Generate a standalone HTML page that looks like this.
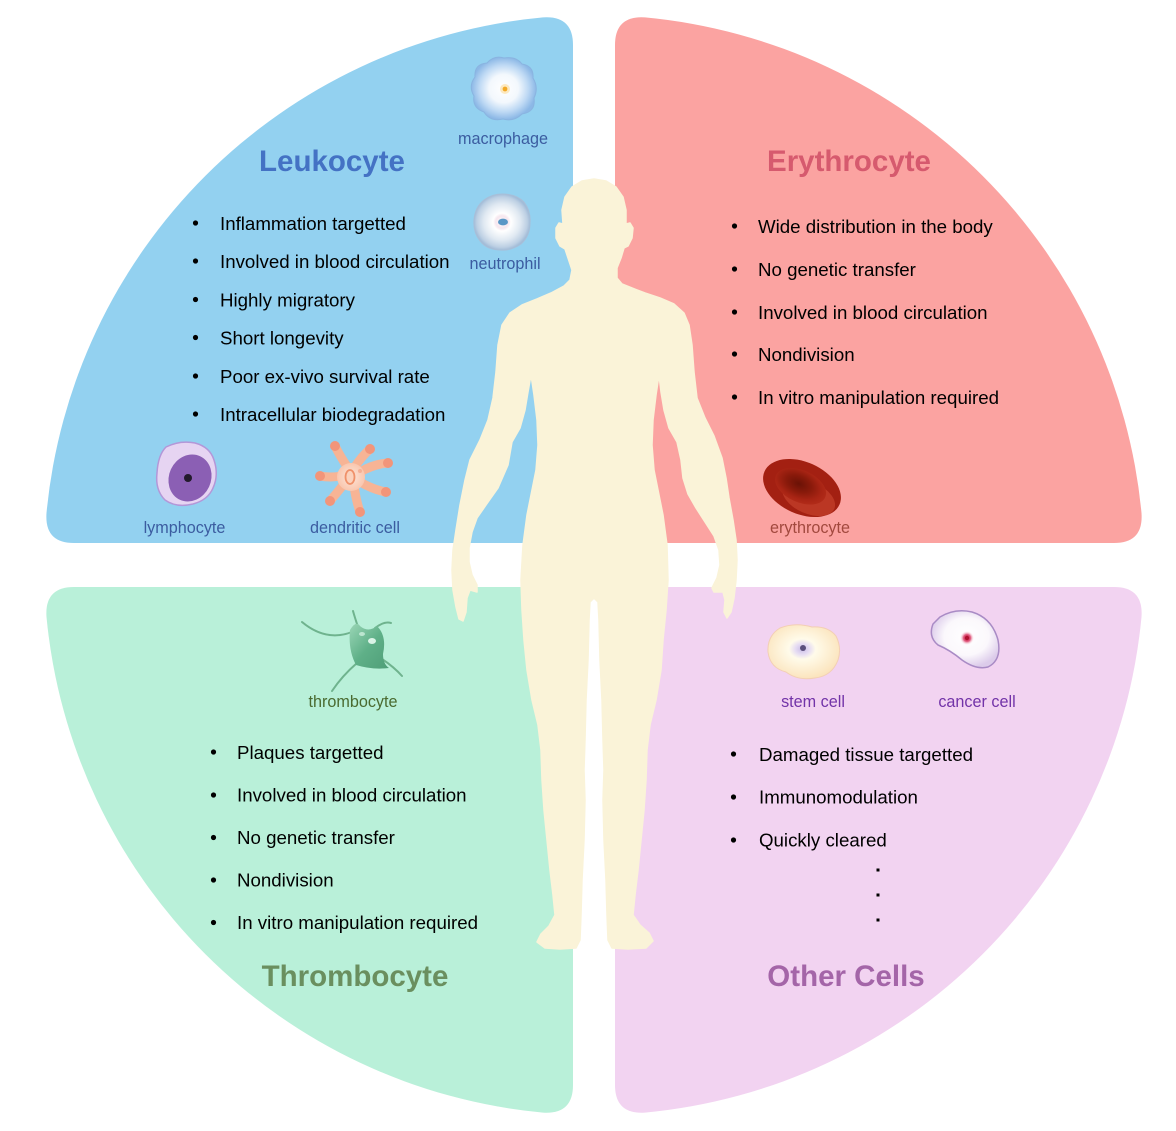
<!DOCTYPE html>
<html>
<head>
<meta charset="utf-8">
<style>
  html,body{margin:0;padding:0;background:#ffffff;}
  svg{display:block;}
  text{font-family:"Liberation Sans",Arial,sans-serif;}
  .b{font-size:18.7px;fill:#000;}
  .t{font-size:29.5px;font-weight:bold;}
  .l{font-size:16.2px;}
</style>
</head>
<body>
<svg width="1176" height="1131" viewBox="0 0 1176 1131" xmlns="http://www.w3.org/2000/svg">
  <defs>
    <radialGradient id="gMac" cx="50%" cy="50%" r="50%">
      <stop offset="0" stop-color="#ffffff"/>
      <stop offset="0.45" stop-color="#f3f8fd"/>
      <stop offset="0.75" stop-color="#bed9f4"/>
      <stop offset="1" stop-color="#8cb8e6"/>
    </radialGradient>
    <radialGradient id="gNeu" cx="50%" cy="50%" r="50%">
      <stop offset="0" stop-color="#ffffff"/>
      <stop offset="0.22" stop-color="#f6e6ee"/>
      <stop offset="0.32" stop-color="#ffffff"/>
      <stop offset="0.65" stop-color="#e0e9f2"/>
      <stop offset="0.9" stop-color="#bccfe3"/>
      <stop offset="1" stop-color="#a2bcd8"/>
    </radialGradient>
    <radialGradient id="gDen" cx="50%" cy="50%" r="50%">
      <stop offset="0" stop-color="#fde6da"/>
      <stop offset="1" stop-color="#f9c6ae"/>
    </radialGradient>
    <radialGradient id="gEry" cx="45%" cy="45%" r="55%">
      <stop offset="0" stop-color="#6a1206"/>
      <stop offset="0.45" stop-color="#8a1a0b"/>
      <stop offset="0.8" stop-color="#a82414"/>
      <stop offset="1" stop-color="#b02a18"/>
    </radialGradient>
    <linearGradient id="gThr" x1="0" y1="0" x2="1" y2="1">
      <stop offset="0" stop-color="#9ad6b6"/>
      <stop offset="0.5" stop-color="#5fb088"/>
      <stop offset="1" stop-color="#4f9e78"/>
    </linearGradient>
    <radialGradient id="gStem" cx="48%" cy="45%" r="55%">
      <stop offset="0" stop-color="#c9bce6"/>
      <stop offset="0.18" stop-color="#e6dcf3"/>
      <stop offset="0.34" stop-color="#fffbea"/>
      <stop offset="1" stop-color="#fbe4bd"/>
    </radialGradient>
    <radialGradient id="gCan" cx="52%" cy="45%" r="55%">
      <stop offset="0" stop-color="#ffffff"/>
      <stop offset="0.6" stop-color="#fbf8fc"/>
      <stop offset="1" stop-color="#dccbea"/>
    </radialGradient>
    <radialGradient id="gNucR" cx="50%" cy="50%" r="50%">
      <stop offset="0" stop-color="#c0143c"/>
      <stop offset="0.5" stop-color="#e0577c"/>
      <stop offset="1" stop-color="#fbe8ee" stop-opacity="0"/>
    </radialGradient>
  </defs>

  <!-- Quadrants -->
  <path d="M573,543 L74,543 Q44.4,543 46.5,513 A550,550 0 0 1 543,17.4 Q573,15.4 573,45 Z" fill="#93d1f0"/>
  <path d="M615,543 L1114,543 Q1143.6,543 1141.5,513 A550,550 0 0 0 645,17.4 Q615,15.4 615,45 Z" fill="#fba3a1"/>
  <path d="M573,587 L74,587 Q44.4,587 46.5,617 A550,550 0 0 0 543,1112.6 Q573,1114.6 573,1085 Z" fill="#b9f0d9"/>
  <path d="M615,587 L1114,587 Q1143.6,587 1141.5,617 A550,550 0 0 1 645,1112.6 Q615,1114.6 615,1085 Z" fill="#f2d3f1"/>

  <!-- Body silhouette -->
  <path fill="#faf3d8" stroke="#faf3d8" stroke-width="1.5" stroke-linejoin="round" d="
  M594,179 L606,181 L616,187 L623,197 L626,210 L626,224 L630,223 L633,228 L632,238 L628,246 L624,248 L621,258 L617,268 L617,278
  L622,284 L632,288 L645,293 L660,298 L674,304 L684,313 L689,325 L692,345 L694,372 L697,398 L705,418 L714,436 L722,458 L726,478
  L729,498 L733,520 L736,540 L737,560 L736,580 L734,598 L731,612 L727,618 L724,612 L725,600 L723,592 L718,592 L714,592 L712,588
  L717,578 L720,565 L719,550 L714,536 L705,522 L696,508 L688,494 L683,478 L681,460 L677,442 L669,428 L664,410 L661,392 L659,375
  L656,395 L653,420 L652,445 L654,470 L658,490 L663,515 L667,545 L668,580 L666,610 L663,640 L661,670 L656,700 L650,725 L647,750
  L646,780 L644,810 L641,840 L638,870 L635,895 L633,915 L640,925 L649,933 L653,941 L646,948 L628,949 L612,948 L608,940 L607,915
  L606,880 L604,840 L603,800 L604,770 L603,740 L602,700 L600,660 L599,620 L598,602 L594,598 L590,602 L589,620 L588,660 L586,700
  L585,740 L584,770 L585,800 L584,840 L582,880 L581,915 L580,940 L576,948 L560,949 L545,948 L537,942 L541,934 L549,926 L555,915
  L553,895 L550,870 L547,840 L544,810 L542,780 L541,750 L538,725 L532,700 L527,670 L524,640 L522,610 L521,580 L523,545 L527,515
  L532,490 L536,470 L538,445 L537,420 L534,395 L531,375 L528,392 L525,410 L520,428 L512,442 L508,465 L498,488 L486,505 L477,518
  L472,532 L469,548 L469,562 L472,575 L477,585 L477,592 L470,590 L467,598 L466,612 L463,621 L459,619 L456,607 L453,590 L452,570
  L453,550 L456,530 L460,505 L465,480 L470,460 L480,440 L488,420 L493,398 L496,372 L498,345 L502,325 L510,313 L522,305 L537,299
  L551,293 L564,286 L570,280 L572,270 L568,258 L565,249 L560,246 L556,238 L556,228 L559,223 L563,224 L562,210 L565,197 L572,187
  L582,181 Z"/>

  <!-- ===== Leukocyte ===== -->
  <text class="t" x="332" y="171" text-anchor="middle" fill="#4472c4">Leukocyte</text>
  <g fill="#000">
    <circle cx="195.5" cy="223" r="2.6"/>
    <circle cx="195.5" cy="261" r="2.6"/>
    <circle cx="195.5" cy="299.5" r="2.6"/>
    <circle cx="195.5" cy="337.5" r="2.6"/>
    <circle cx="195.5" cy="376" r="2.6"/>
    <circle cx="195.5" cy="414" r="2.6"/>
  </g>
  <text class="b" x="220" y="230">Inflammation targetted</text>
  <text class="b" x="220" y="268">Involved in blood circulation</text>
  <text class="b" x="220" y="306.5">Highly migratory</text>
  <text class="b" x="220" y="344.5">Short longevity</text>
  <text class="b" x="220" y="383">Poor ex-vivo survival rate</text>
  <text class="b" x="220" y="421">Intracellular biodegradation</text>

  <!-- macrophage -->
  <path d="M504,58 Q516,56 522,64 Q534,66 533,78 Q539,88 534,98 Q536,112 522,114 Q514,122 503,119 Q490,122 484,112 Q472,108 474,96 Q468,86 475,77 Q474,64 487,63 Q494,55 504,58 Z" fill="url(#gMac)" stroke="#8ab4e0" stroke-width="1"/>
  <circle cx="505" cy="89" r="5" fill="#fde3b0" opacity="0.8"/>
  <circle cx="505" cy="89" r="2.4" fill="#f2a927"/>
  <text class="l" x="503" y="144" text-anchor="middle" fill="#3b5ca0">macrophage</text>

  <!-- neutrophil -->
  <path d="M502,194 Q516,194 524,202 Q531,211 530,223 Q530,236 521,244 Q511,251 500,250 Q487,250 480,241 Q473,232 474,220 Q475,207 484,200 Q492,194 502,194 Z" fill="url(#gNeu)" stroke="#a8bfd8" stroke-width="1"/>
  <ellipse cx="503" cy="222" rx="5" ry="3.4" fill="#5a97c6"/>
  <text class="l" x="505" y="269" text-anchor="middle" fill="#3b5ca0">neutrophil</text>

  <!-- lymphocyte -->
  <path d="M166,447 Q180,440 195,443 Q210,447 214,460 Q219,475 213,488 Q208,500 193,504 Q176,508 165,500 Q155,490 157,473 Q158,455 166,447 Z" fill="#e6d4f2" stroke="#b397d8" stroke-width="1.5"/>
  <ellipse cx="190" cy="478" rx="21" ry="24" transform="rotate(25 190 478)" fill="#8b5fb4"/>
  <circle cx="188" cy="478" r="4" fill="#231a2c"/>
  <text class="l" x="184.5" y="533" text-anchor="middle" fill="#3b5ca0">lymphocyte</text>

  <!-- dendritic cell -->
  <g stroke-linecap="round" fill="none">
    <path d="M348,468 Q340,456 335,446" stroke="#f7b495" stroke-width="9"/>
    <path d="M354,468 Q362,456 370,449" stroke="#f7b495" stroke-width="9"/>
    <path d="M360,472 Q374,464 388,463" stroke="#f7b495" stroke-width="9"/>
    <path d="M360,482 Q374,490 386,492" stroke="#f7b495" stroke-width="9"/>
    <path d="M354,486 Q356,500 360,512" stroke="#f7b495" stroke-width="9"/>
    <path d="M344,484 Q336,494 330,501" stroke="#f7b495" stroke-width="9"/>
    <path d="M341,476 Q330,478 320,476" stroke="#f7b495" stroke-width="9"/>
  </g>
  <g fill="#f2957a">
    <circle cx="335" cy="446" r="5"/>
    <circle cx="370" cy="449" r="5"/>
    <circle cx="388" cy="463" r="5"/>
    <circle cx="386" cy="492" r="5"/>
    <circle cx="360" cy="512" r="5"/>
    <circle cx="330" cy="501" r="5"/>
    <circle cx="320" cy="476" r="5"/>
  </g>
  <circle cx="351" cy="477" r="14" fill="url(#gDen)"/>
  <ellipse cx="350" cy="477" rx="4.5" ry="7" fill="#fbd2bd" stroke="#f0916a" stroke-width="1.8"/>
  <circle cx="360" cy="471" r="2" fill="#f5b095"/>
  <text class="l" x="355" y="533" text-anchor="middle" fill="#3b5ca0">dendritic cell</text>

  <!-- ===== Erythrocyte ===== -->
  <text class="t" x="849" y="171" text-anchor="middle" fill="#d65a6e">Erythrocyte</text>
  <g fill="#000">
    <circle cx="734.5" cy="226" r="2.6"/>
    <circle cx="734.5" cy="269" r="2.6"/>
    <circle cx="734.5" cy="312" r="2.6"/>
    <circle cx="734.5" cy="354" r="2.6"/>
    <circle cx="734.5" cy="397" r="2.6"/>
  </g>
  <text class="b" x="758" y="233">Wide distribution in the body</text>
  <text class="b" x="758" y="276">No genetic transfer</text>
  <text class="b" x="758" y="319">Involved in blood circulation</text>
  <text class="b" x="758" y="361">Nondivision</text>
  <text class="b" x="758" y="404">In vitro manipulation required</text>

  <g transform="translate(802,488) rotate(24)">
    <ellipse cx="0" cy="0" rx="41" ry="26" fill="#a32012"/>
    <ellipse cx="10" cy="6" rx="28" ry="16" fill="#cf4a33" opacity="0.55"/>
    <ellipse cx="-2" cy="-1" rx="27" ry="16" fill="url(#gEry)"/>
  </g>
  <text class="l" x="810" y="533" text-anchor="middle" fill="#a2493e">erythrocyte</text>

  <!-- ===== Thrombocyte ===== -->
  <g fill="none" stroke="#6fb38e" stroke-width="2" stroke-linecap="round">
    <path d="M352,632 Q326,642 302,622"/>
    <path d="M358,627 Q355,618 353,611"/>
    <path d="M375,628 Q384,621 391,623"/>
    <path d="M382,659 Q394,667 402,676"/>
    <path d="M357,663 Q342,676 332,691"/>
  </g>
  <path d="M350,630 Q356,620 360,626 Q368,633 377,626 Q387,636 383,654 Q383,664 389,668 Q372,670 356,665 Q348,650 350,630 Z" fill="url(#gThr)"/>
  <ellipse cx="372" cy="641" rx="4" ry="3" fill="#e8fbf1" opacity="0.9"/>
  <ellipse cx="362" cy="634" rx="3" ry="2" fill="#d9f5e6" opacity="0.7"/>
  <text class="l" x="353" y="707" text-anchor="middle" fill="#4a6a30">thrombocyte</text>

  <g fill="#000">
    <circle cx="213.5" cy="752" r="2.6"/>
    <circle cx="213.5" cy="795" r="2.6"/>
    <circle cx="213.5" cy="837.5" r="2.6"/>
    <circle cx="213.5" cy="880" r="2.6"/>
    <circle cx="213.5" cy="922.5" r="2.6"/>
  </g>
  <text class="b" x="237" y="759">Plaques targetted</text>
  <text class="b" x="237" y="801.5">Involved in blood circulation</text>
  <text class="b" x="237" y="844">No genetic transfer</text>
  <text class="b" x="237" y="886.5">Nondivision</text>
  <text class="b" x="237" y="929">In vitro manipulation required</text>
  <text class="t" x="355" y="986" text-anchor="middle" fill="#6a8f5f">Thrombocyte</text>

  <!-- ===== Other Cells ===== -->
  <path d="M780,628 Q795,622 812,627 Q828,626 836,636 Q842,648 838,660 Q832,676 815,678 Q798,681 786,672 Q770,668 768,652 Q767,636 780,628 Z" fill="url(#gStem)" stroke="#f3cfb4" stroke-width="1"/>
  <circle cx="803" cy="648" r="3" fill="#5b4f7d"/>
  <text class="l" x="813" y="707" text-anchor="middle" fill="#7233a8">stem  cell</text>

  <path d="M940,617 Q955,608 972,612 Q992,618 998,640 Q1002,660 988,667 Q976,670 962,660 Q950,650 938,645 Q928,637 933,624 Z" fill="url(#gCan)" stroke="#a98bc5" stroke-width="1.5"/>
  <circle cx="967" cy="638" r="7" fill="url(#gNucR)"/>
  <circle cx="967" cy="638" r="2.2" fill="#b0102f"/>
  <text class="l" x="977" y="707" text-anchor="middle" fill="#7233a8">cancer cell</text>

  <g fill="#000">
    <circle cx="733.5" cy="754" r="2.6"/>
    <circle cx="733.5" cy="797" r="2.6"/>
    <circle cx="733.5" cy="840" r="2.6"/>
    <rect x="876.5" y="868.5" width="3" height="3"/>
    <rect x="876.5" y="893.5" width="3" height="3"/>
    <rect x="876.5" y="918.5" width="3" height="3"/>
  </g>
  <text class="b" x="759" y="761">Damaged tissue targetted</text>
  <text class="b" x="759" y="803.5">Immunomodulation</text>
  <text class="b" x="759" y="846.5">Quickly cleared</text>
  <text class="t" x="846" y="986" text-anchor="middle" fill="#a465a8">Other Cells</text>
</svg>
</body>
</html>
